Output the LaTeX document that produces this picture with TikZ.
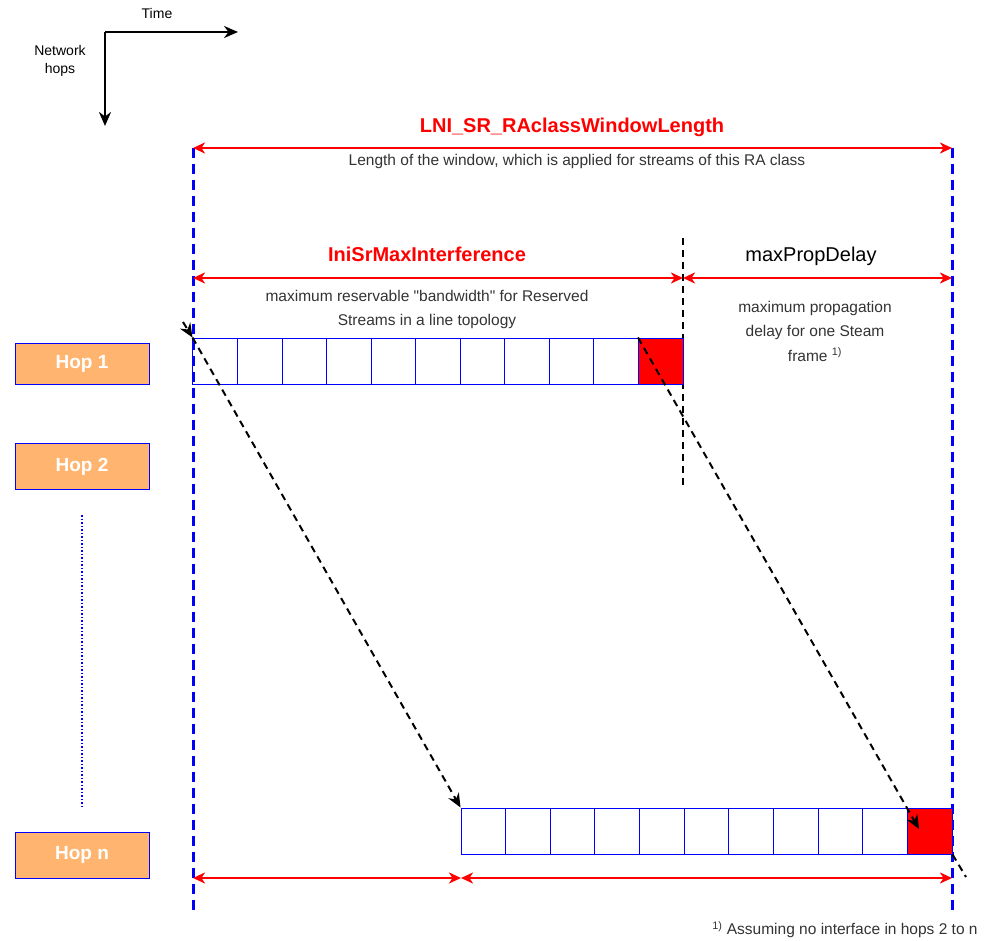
\documentclass[tikz,border=0pt]{standalone}
\usepackage{fontspec}
\setmainfont{Liberation Sans}
\usetikzlibrary{arrows.meta, positioning, calc}

\definecolor{hoporange}{HTML}{FFB570}
\definecolor{txtgray}{HTML}{333333}

\tikzset{
  hop/.style={draw=blue, line width=1pt, fill=hoporange, text=white, font=\fontsize{19}{22}\selectfont\bfseries,
    minimum width=134pt, minimum height=46pt, inner sep=0pt},
  cell/.style={draw=blue, line width=1pt, minimum width=44.6pt, minimum height=46pt, inner sep=0pt},
  dimline/.style={red, line width=2.2pt, {Stealth[length=12pt,width=11pt,inset=3.5pt]}-{Stealth[length=12pt,width=11pt,inset=3.5pt]}},
  bound/.style={blue, line width=3pt, dash pattern=on 10pt off 6pt},
  travel/.style={black, line width=2pt, dash pattern=on 7pt off 5pt},
  note/.style={text=txtgray, font=\fontsize{15.5}{18}\selectfont, align=center},
  redtitle/.style={red, font=\fontsize{20}{23}\selectfont\bfseries}
}

\begin{document}
\begin{tikzpicture}[x=1pt, y=-1pt, >={Stealth[length=14pt,width=12pt]}]
  \useasboundingbox (0,0) rectangle (990,941);

  % axes
  \coordinate (O) at (105,32);
  \coordinate (T) at (238,32);
  \coordinate (N) at (105,126);
  \draw[->, line width=2.8pt] (O) -- (T);
  \draw[->, line width=2.8pt] (O) -- (N);
  \node[font=\fontsize{14}{16}\selectfont] (time) at (157,13) {Time};
  \node[font=\fontsize{14}{18}\selectfont, align=center] (hops) at (60,61) {Network\\hops};

  % window borders
  \coordinate (L1) at (193,148);
  \coordinate (L2) at (193,915);
  \coordinate (R1) at (952,148);
  \coordinate (R2) at (952,915);
  \draw[bound] (L1) -- (L2);
  \draw[bound] (R1) -- (R2);

  % window length
  \draw[dimline] (L1) -- (R1);
  \node[redtitle] (win) at (572,127) {LNI\_SR\_RAclassWindowLength};
  \node[note] (winnote) at (577,161) {Length of the window, which is applied for streams of this RA class};

  % interference / propagation split
  \coordinate (S1) at (683,238);
  \coordinate (S2) at (683,486);
  \draw[travel, line width=1.8pt] (S1) -- (S2);
  \coordinate (M1) at (193,278);
  \coordinate (M2) at (683,278);
  \coordinate (M3) at (952,278);
  \draw[dimline] (M1) -- (M2);
  \draw[dimline] (M2) -- (M3);
  \node[redtitle] (intf) at (427,254) {IniSrMaxInterference};
  \node[note, font=\fontsize{15.5}{24}\selectfont] (intfnote) at (427,309) {maximum reservable \textquotedbl bandwidth\textquotedbl{} for Reserved\\Streams in a line topology};
  \node[font=\fontsize{20}{23}\selectfont] (prop) at (811,256) {maxPropDelay};
  \node[note, font=\fontsize{15.5}{24.5}\selectfont] (propnote) at (815,331) {maximum propagation\\delay for one Steam\\frame \textsuperscript{1)}};

  % hops
  \node[hop, minimum height=41pt] (hop1) at (82,363.5) {Hop 1};
  \node[hop] (hop2) at (82,466.5) {Hop 2};
  \node[hop] (hopn) at (82,855) {Hop n};
  \coordinate (D1) at (82,515);
  \coordinate (D2) at (82,808);
  \draw[blue, line width=1.5pt, dotted] (D1) -- (D2);

  % frames of hop 1 and hop n
  \foreach \i in {0,...,10} {
    \node[cell] (a\i) at (193+44.55*\i+22.27,361) {};
    \node[cell] (b\i) at (461+44.64*\i+22.32,831) {};
  }
  \node[cell, fill=red] at (a10) {};
  \node[cell, fill=red] at (b10) {};

  % frame travel
  \coordinate (A0) at (183,322);
  \coordinate (Bt) at (919,829);
  \coordinate (E) at (966,877);
  \draw[travel, ->] (A0) -- (a0.north west);
  \draw[travel, ->] (a0.north west) -- (b0.north west);
  \draw[travel, ->] (a10.north west) -- (Bt);
  \draw[travel] (b10.south east) -- (E);

  % bottom spans
  \coordinate (B1) at (193,878);
  \coordinate (B2) at (461,878);
  \coordinate (B3) at (952,878);
  \draw[dimline] (B1) -- (B2);
  \draw[dimline] (B2) -- (B3);

  % footnote
  \node[note] (foot) at (845,930) {\textsuperscript{1)} Assuming no interface in hops 2 to n};
\end{tikzpicture}
\end{document}
